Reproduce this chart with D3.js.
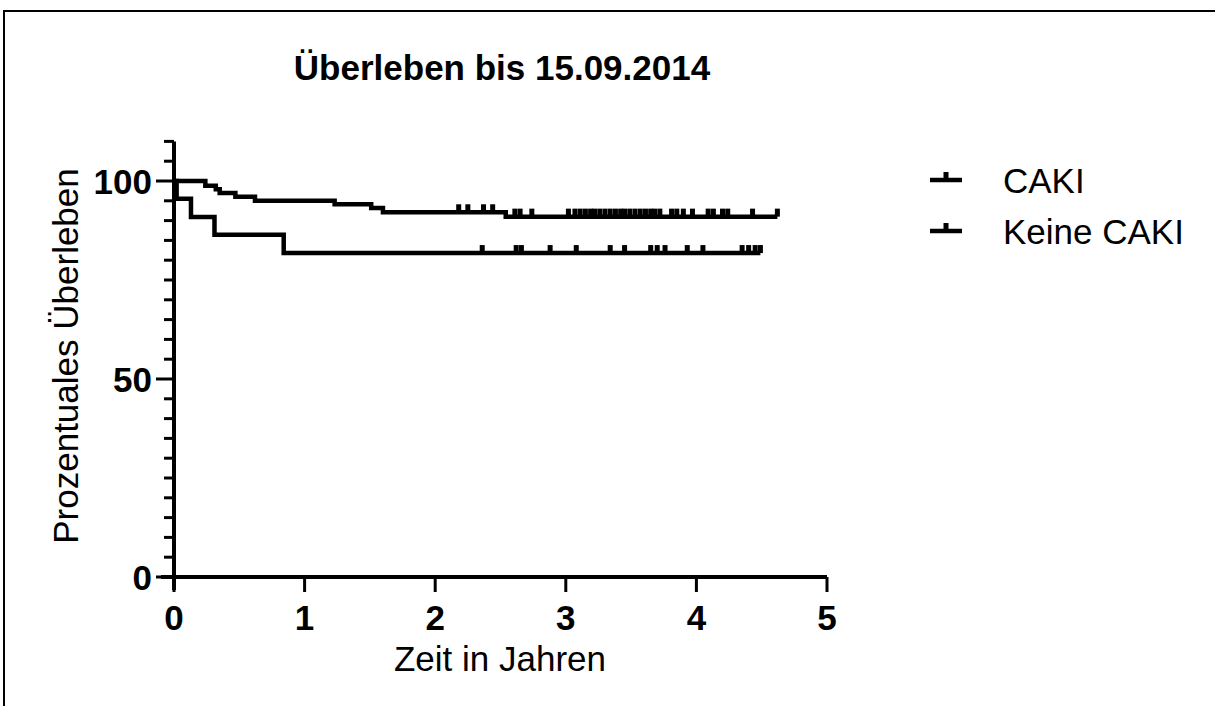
<!DOCTYPE html>
<html>
<head>
<meta charset="utf-8">
<script src="https://cdn.jsdelivr.net/npm/d3@7"></script>
<style>
  body { margin: 0; background: #fff; }
  text { font-family: "Liberation Sans", Arial, sans-serif; fill: #000; }
</style>
</head>
<body>
<div id="chart"></div>
<script>
// Kaplan-Meier data (time in years, survival in %)
const cakiTimes = [0, 0.24, 0.32, 0.35, 0.47, 0.62, 1.23, 1.51, 1.60, 2.54, 4.62];
const cakiSurv  = [100, 98.8, 97.9, 97.0, 96.0, 95.0, 94.1, 93.2, 92.1, 91.0, 91.0];
const cakiCensored = [2.18, 2.25, 2.37, 2.44, 2.61, 2.65, 2.74, 3.02, 3.07, 3.11, 3.15, 3.19,
  3.22, 3.26, 3.30, 3.34, 3.38, 3.42, 3.45, 3.49, 3.53, 3.57, 3.61, 3.65, 3.68, 3.72,
  3.81, 3.85, 3.90, 3.97, 4.09, 4.13, 4.20, 4.24, 4.43, 4.62];

const keineTimes = [0, 0.02, 0.13, 0.31, 0.84, 4.49];
const keineSurv  = [100, 95.5, 90.9, 86.4, 81.8, 81.8];
const keineCensored = [2.36, 2.62, 2.66, 2.88, 3.08, 3.34, 3.45, 3.65, 3.70, 3.76, 3.93,
  4.05, 4.35, 4.40, 4.45, 4.49];

const seriesNames = ["CAKI", "Keine CAKI"];
const xTicks = [0, 1, 2, 3, 4, 5];
const yTicks = [0, 50, 100];
const yMinorTicks = d3.range(0, 111, 5);

const W = 1215, H = 706;

const svg = d3.select("#chart")
  .append("svg")
  .attr("width", W)
  .attr("height", H);

// outer frame
svg.append("rect")
  .attr("x", 4).attr("y", 11)
  .attr("width", W + 20).attr("height", H + 20)
  .attr("fill", "none").attr("stroke", "#000").attr("stroke-width", 2);

const x = d3.scaleLinear().domain([0, 5]).range([174, 827]);
const y = d3.scaleLinear().domain([0, 100]).range([577, 181]);

// y axis
const yAxis = svg.append("g");
yAxis.append("line")
  .attr("x1", x(0)).attr("x2", x(0))
  .attr("y1", y(110)).attr("y2", y(0) + 13)
  .attr("stroke", "#000").attr("stroke-width", 4);
yAxis.selectAll(".minor")
  .data(yMinorTicks)
  .join("line")
  .attr("x1", d => yTicks.includes(d) ? x(0) - 18 : x(0) - 10)
  .attr("x2", x(0))
  .attr("y1", d => y(d)).attr("y2", d => y(d))
  .attr("stroke", "#000").attr("stroke-width", 3);
yAxis.selectAll(".lab")
  .data(yTicks)
  .join("text")
  .attr("x", x(0) - 22)
  .attr("y", d => y(d))
  .attr("dy", "0.36em")
  .attr("text-anchor", "end")
  .attr("font-size", 35)
  .attr("font-weight", "bold")
  .text(d => d);

// x axis
const xAxis = svg.append("g");
xAxis.append("line")
  .attr("x1", x(0) - 13).attr("x2", x(5))
  .attr("y1", y(0)).attr("y2", y(0))
  .attr("stroke", "#000").attr("stroke-width", 4);
xAxis.selectAll(".tk")
  .data(xTicks)
  .join("line")
  .attr("x1", d => x(d)).attr("x2", d => x(d))
  .attr("y1", y(0)).attr("y2", y(0) + 15)
  .attr("stroke", "#000").attr("stroke-width", 3);
xAxis.selectAll(".lab")
  .data(xTicks)
  .join("text")
  .attr("x", d => x(d))
  .attr("y", 630)
  .attr("text-anchor", "middle")
  .attr("font-size", 35)
  .attr("font-weight", "bold")
  .text(d => d);

// titles
svg.append("text")
  .attr("x", 502).attr("y", 80)
  .attr("text-anchor", "middle")
  .attr("font-size", 35).attr("font-weight", "bold")
  .text("Überleben bis 15.09.2014");

svg.append("text")
  .attr("x", 500).attr("y", 671)
  .attr("text-anchor", "middle")
  .attr("font-size", 35)
  .text("Zeit in Jahren");

svg.append("text")
  .attr("transform", "translate(78,356) rotate(-90)")
  .attr("text-anchor", "middle")
  .attr("font-size", 35)
  .text("Prozentuales Überleben");

// curves
const line = d3.line()
  .x(d => x(d[0]))
  .y(d => y(d[1]))
  .curve(d3.curveStepAfter);

const bis = d3.bisector(d => d).right;

function drawSeries(times, surv, censored) {
  const pts = times.map((t, i) => [t, surv[i]]);
  svg.append("path")
    .datum(pts)
    .attr("d", line)
    .attr("fill", "none")
    .attr("stroke", "#000")
    .attr("stroke-width", 4.5)
    .attr("stroke-linejoin", "miter");
  svg.append("g").selectAll("rect")
    .data(censored)
    .join("rect")
    .attr("x", d => x(d) - 2.5)
    .attr("y", d => y(surv[Math.max(0, bis(times, d) - 1)]) - 8)
    .attr("width", 5)
    .attr("height", 8)
    .attr("fill", "#000");
}

drawSeries(cakiTimes, cakiSurv, cakiCensored);
drawSeries(keineTimes, keineSurv, keineCensored);

// legend
const legend = svg.append("g").selectAll("g")
  .data(seriesNames)
  .join("g")
  .attr("transform", (d, i) => "translate(930," + (180 + i * 51) + ")");
legend.append("line")
  .attr("x1", 0).attr("x2", 32)
  .attr("stroke", "#000").attr("stroke-width", 4.5);
legend.append("rect")
  .attr("x", 13.5).attr("y", -8)
  .attr("width", 5).attr("height", 8)
  .attr("fill", "#000");
legend.append("text")
  .attr("x", 73)
  .attr("dy", "0.36em")
  .attr("font-size", 35)
  .text(d => d);
</script>
</body>
</html>
